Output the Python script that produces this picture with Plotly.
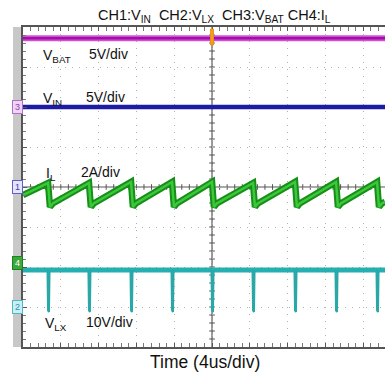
import plotly.graph_objects as go

T_END = 38.3                      # visible time span, us (4 us/div)
sw_t = [2.65, 6.98, 11.43, 15.77, 20.0, 24.34, 28.78, 33.12, 37.46]   # switching instants, us

# CH4: inductor current I_L (A), 2 A/div
il_start = 3.39
il_peak = [4.0, 4.0, 4.05, 4.05, 4.05, 4.0, 4.05, 4.05, 4.05]
il_valley = [2.8, 2.8, 2.8, 2.8, 2.8, 2.8, 2.8, 2.8, 2.8]
il_knee = [2.98, 2.98, 2.98, 2.98, 2.98, 2.98, 2.98, 2.98, 2.98]
il_end = 3.05

# CH3: V_BAT (V), 5 V/div ; CH1: V_IN (V), 5 V/div
vbat_level = 8.6
vin_level = 10.0
# CH2: V_LX (V), 10 V/div
vlx_high = 9.25
vlx_low = -1.25

# channel scale (unit/div) and ground-marker position (div from centre)
ch_scale = {"vbat": 5, "vin": 5, "il": 2, "vlx": 10}
ch_ground = {"vbat": 2.0, "vin": 0.0, "il": -1.9, "vlx": -3.0}

# ---------------- build polylines from the values ----------------
il_x, il_y = [0.0], [il_start]
for t, pk, vl, kn in zip(sw_t, il_peak, il_valley, il_knee):
    il_x += [t, t + 0.2, t + 0.5]
    il_y += [pk, vl, kn]
il_x.append(T_END)
il_y.append(il_end)

lx_x, lx_y = [], []
for t in sw_t:
    lx_x += [t - 0.06, t, t + 0.1, t + 0.16, None]
    lx_y += [vlx_high, vlx_low + 0.4, vlx_low, vlx_high, None]


def rng(ch):
    s, g = ch_scale[ch], ch_ground[ch]
    return [(-4 - g) * s, (4 - g) * s]


fig = go.Figure()

fig.add_trace(go.Scatter(x=[0, T_END], y=[vbat_level, vbat_level], yaxis="y2", mode="lines",
                         line=dict(color="#d050d0", width=6), hoverinfo="skip"))
fig.add_trace(go.Scatter(x=[0, T_END], y=[vbat_level, vbat_level], yaxis="y2", mode="lines",
                         line=dict(color="#a010a8", width=2.5), hoverinfo="skip"))
fig.add_trace(go.Scatter(x=[0, T_END], y=[vin_level, vin_level], yaxis="y3", mode="lines",
                         line=dict(color="#1c1ca4", width=4.5), hoverinfo="skip"))
fig.add_trace(go.Scatter(x=il_x, y=il_y, yaxis="y4", mode="lines",
                         line=dict(color="#168f16", width=6.5), hoverinfo="skip"))
fig.add_trace(go.Scatter(x=il_x, y=il_y, yaxis="y4", mode="lines",
                         line=dict(color="#3cc83c", width=2.5), hoverinfo="skip"))
fig.add_trace(go.Scatter(x=[0, T_END], y=[vlx_high, vlx_high], yaxis="y5", mode="lines",
                         line=dict(color="#24b0b0", width=5), hoverinfo="skip"))
fig.add_trace(go.Scatter(x=lx_x, y=lx_y, yaxis="y5", mode="lines",
                         line=dict(color="#2aa8a8", width=2), hoverinfo="skip"))

# ---------------- graticule ----------------
shapes = []
grid = "#555555"
shapes.append(dict(type="line", xref="x", yref="y", x0=20, x1=20, y0=-4, y1=4,
                   line=dict(color=grid, width=1.2), layer="below"))
shapes.append(dict(type="line", xref="x", yref="y", x0=0, x1=T_END, y0=0, y1=0,
                   line=dict(color=grid, width=1.2), layer="below"))
for k in range(1, 48):
    xx = k * 0.8
    shapes.append(dict(type="line", xref="x", yref="y", x0=xx, x1=xx, y0=-0.07, y1=0.07,
                       line=dict(color=grid, width=1), layer="below"))
for k in range(-19, 20):
    yy = k * 0.2
    shapes.append(dict(type="line", xref="x", yref="y", x0=19.7, x1=20.3, y0=yy, y1=yy,
                       line=dict(color=grid, width=1), layer="below"))
# left gray strip
shapes.append(dict(type="rect", xref="paper", yref="paper", x0=-0.0276, x1=-0.003, y0=0, y1=1,
                   fillcolor="#c8c8c8", line=dict(width=0), layer="below"))
# trigger marker
shapes.append(dict(type="rect", xref="x", yref="y", x0=19.85, x1=20.15, y0=3.55, y1=3.95,
                   fillcolor="#f0a020", line=dict(color="#e89010", width=1)))

font = "Liberation Sans, Arial, sans-serif"
anns = []


def lab(text, x, y, size=14, xanchor="left"):
    anns.append(dict(text=text, x=x, y=y, xref="x", yref="y", showarrow=False,
                     xanchor=xanchor, yanchor="middle", font=dict(family=font, size=size, color="#111111")))


def div(py):
    return (187 - py) / 40.0


def us(px):
    return (px - 23) / 9.45


lab("V<sub>BAT</sub>", us(41), div(56))
lab("5V/div", us(87), div(54))
lab("V<sub>IN</sub>", us(41), div(99))
lab("5V/div", us(84), div(97))
lab("I<sub>L</sub>", us(44), div(174))
lab("2A/div", us(79), div(172))
lab("V<sub>LX</sub>", us(43), div(324))
lab("10V/div", us(84), div(322))

sp = "\u00a0"
anns.append(dict(text="CH1:V<sub>IN</sub>" + sp * 2 + "CH2:V<sub>LX</sub>" + sp * 2 + "CH3:V<sub>BAT</sub>" + sp + "CH4:I<sub>L</sub>",
                 x=(214 - 23) / 362, y=(347 - 16) / 320, xref="paper", yref="paper", showarrow=False,
                 xanchor="center", yanchor="middle", font=dict(family=font, size=14.5, color="#111111")))
anns.append(dict(text="Time (4us/div)", x=(205 - 23) / 362, y=(347 - 362) / 320, xref="paper", yref="paper",
                 showarrow=False, xanchor="center", yanchor="middle",
                 font=dict(family=font, size=17.5, color="#111111")))

# channel ground markers
markers = [("3", "vbat", "#efd4f4", "#b070c8", "#9040b0"),
           ("1", "vin", "#e4e4fa", "#6060c8", "#4040b0"),
           ("4", "il", "#3aa83a", "#208020", "#ffffff"),
           ("2", "vlx", "#c8f0f4", "#50b8c8", "#3090a8")]
for txt, ch, bg, bd, fc in markers:
    anns.append(dict(text=txt, x=(17.5 - 23) / 362, y=ch_ground[ch], xref="paper", yref="y",
                     showarrow=False, xanchor="center", yanchor="middle", bgcolor=bg, bordercolor=bd,
                     borderwidth=1, borderpad=1, width=7, font=dict(family=font, size=9, color=fc)))

fig.update_layout(
    width=385, height=376,
    margin=dict(l=23, r=0, t=27, b=29),
    paper_bgcolor="white", plot_bgcolor="white",
    showlegend=False,
    shapes=shapes, annotations=anns,
    xaxis=dict(range=[0, T_END], dtick=4, tick0=0, showticklabels=False,
               showgrid=True, gridcolor="#b0b0b0", griddash="1px,6px", gridwidth=1,
               zeroline=False, showline=True, linecolor="#555555", linewidth=1.5, mirror="allticks",
               ticks="inside", ticklen=4, tickcolor="#555555",
               minor=dict(dtick=0.8, ticks="inside", ticklen=3, tickcolor="#777777", showgrid=False)),
    yaxis=dict(range=[-4, 4], dtick=1, tick0=0, showticklabels=False,
               showgrid=True, gridcolor="#b0b0b0", griddash="1px,6px", gridwidth=1,
               zeroline=False, showline=True, linecolor="#555555", linewidth=1.5,
               ticks="inside", ticklen=4, tickcolor="#555555",
               minor=dict(dtick=0.2, ticks="inside", ticklen=3, tickcolor="#777777", showgrid=False)),
    yaxis2=dict(range=rng("vbat"), overlaying="y", visible=False),
    yaxis3=dict(range=rng("vin"), overlaying="y", visible=False),
    yaxis4=dict(range=rng("il"), overlaying="y", visible=False),
    yaxis5=dict(range=rng("vlx"), overlaying="y", visible=False),
)

fig.write_html("out.html", config={"displayModeBar": False},
               post_script="document.body.style.margin='0';document.body.style.overflow='hidden';")
